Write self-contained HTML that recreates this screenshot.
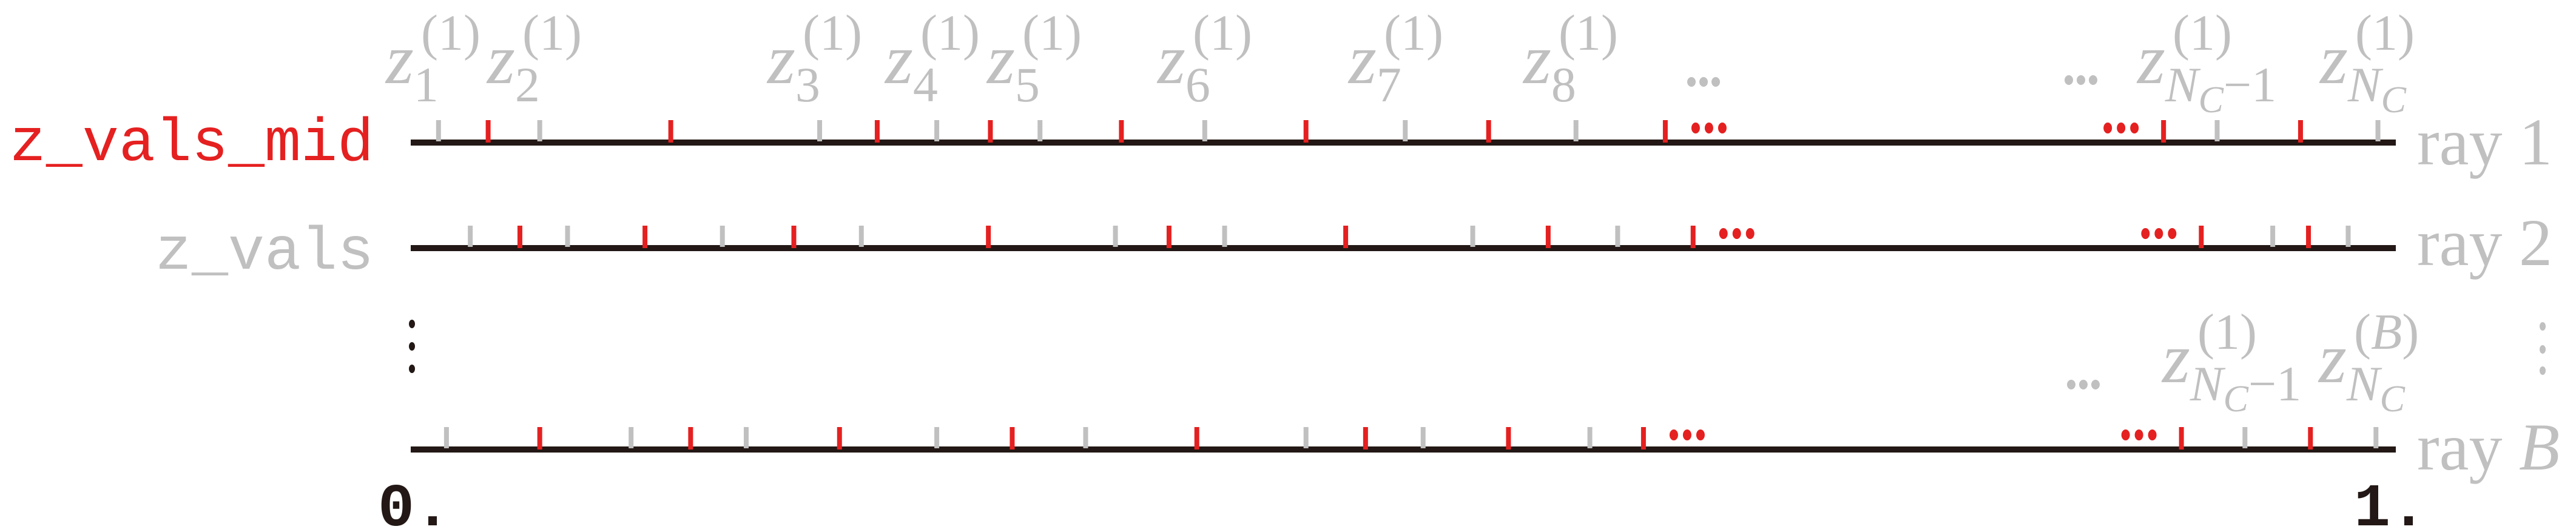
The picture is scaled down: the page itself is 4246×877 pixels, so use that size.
<!DOCTYPE html>
<html><head><meta charset="utf-8"><style>
html,body{margin:0;padding:0;background:#fff;}
svg{display:block;}
.lab{font-family:"Liberation Serif",serif;fill:#c0c0c0;}
.z{font-style:italic;font-size:118px;}
.sub{font-size:82px;}
.subi{font-size:82px;font-style:italic;}
.subc{font-size:62px;font-style:italic;}
.sup{font-size:84px;}
.mono{font-family:"Liberation Mono",monospace;font-size:100px;}
</style></head><body>
<svg id="chart" width="4246" height="877" viewBox="0 0 4246 877" xmlns="http://www.w3.org/2000/svg">
<text x="616" y="264" text-anchor="end" class="mono" fill="#e52020">z_vals_mid</text>
<text x="616" y="443" text-anchor="end" class="mono" fill="#c0c0c0">z_vals</text>
<text x="623" y="866" class="mono" fill="#231815" font-weight="bold">0.</text>
<text x="3880" y="866" class="mono" fill="#231815" font-weight="bold">1.</text>
<text x="3984" y="271" class="lab" font-size="110">ray 1</text>
<text x="3984" y="437" class="lab" font-size="110">ray 2</text>
<text x="3984" y="774" class="lab" font-size="110">ray <tspan font-style="italic">B</tspan></text>
<g fill="#231815"><ellipse cx="679" cy="534" rx="5" ry="7"/><ellipse cx="679" cy="571" rx="5" ry="7"/><ellipse cx="679" cy="608" rx="5" ry="7"/></g>
<g fill="#c0c0c0"><ellipse cx="4191" cy="538" rx="5" ry="7"/><ellipse cx="4191" cy="576" rx="5" ry="7"/><ellipse cx="4191" cy="611" rx="5" ry="7"/></g>
<g id="marks"></g>
<g id="labels"></g>
</svg>
<script>
const rays = ["ray 1", "ray 2", "ray B"];
const zValsRay1 = [0.014, 0.065, 0.206, 0.265, 0.317, 0.400, 0.501, 0.587, 0.910, 0.991];
const zMidRay1 = [0.039, 0.131, 0.235, 0.292, 0.358, 0.451, 0.543, 0.632, 0.883, 0.952];
const zValsRay2 = [0.030, 0.079, 0.157, 0.227, 0.355, 0.410, 0.535, 0.608, 0.938, 0.976];
const zMidRay2 = [0.055, 0.118, 0.193, 0.291, 0.382, 0.471, 0.573, 0.646, 0.902, 0.956];
const zValsRayB = [0.018, 0.111, 0.169, 0.265, 0.340, 0.451, 0.510, 0.594, 0.924, 0.990];
const zMidRayB = [0.065, 0.141, 0.216, 0.303, 0.396, 0.481, 0.553, 0.621, 0.892, 0.957];

const NS = "http://www.w3.org/2000/svg";
const X0 = 677, X1 = 3949;
function xScale(v){ return X0 + v * (X1 - X0); }
const rowY = [235, 409, 741];
const marks = document.getElementById('marks');
function mk(tag, attrs){ const e=document.createElementNS(NS,tag); for(const k in attrs) e.setAttribute(k,attrs[k]); return e; }
const valsSets=[zValsRay1,zValsRay2,zValsRayB], midSets=[zMidRay1,zMidRay2,zMidRayB];
rays.forEach((r,i)=>{
  const y=rowY[i];
  const line=mk('rect',{x:X0,y:y-5,width:X1-X0,height:10,fill:'#231815'});
  
  
  marks.appendChild(line);
  valsSets[i].forEach(v=>{
    const t=mk('rect',{x:xScale(v)-4,y:y-37,width:8,height:35,fill:'#c0c0c0'});
    
    
    marks.appendChild(t);
  });
  midSets[i].forEach(v=>{
    const t=mk('rect',{x:xScale(v)-4,y:y-37,width:8,height:37,fill:'#e52020'});
    
    
    marks.appendChild(t);
  });
  const m=midSets[i];
  [[m[7],1],[m[8],-1]].forEach(([v,dir])=>{
    const g=mk('g',{fill:'#e52020'});
    
    
    const base = dir>0 ? xScale(v)+50 : xScale(v)-92;
    for(let k=0;k<3;k++) g.appendChild(mk('ellipse',{cx:base+k*22,cy:y-24,rx:7,ry:9}));
    marks.appendChild(g);
  });
});
const labs=document.getElementById('labels');
function zlabel(x,y,subParts,supText,supItalic){
  const t=mk('text',{x:x,y:y,class:'lab'});
  
  
  const z=mk('tspan',{class:'z'}); z.textContent='z'; t.appendChild(z);
  subParts.forEach(([s,cls,dy])=>{
    const sp=mk('tspan',{class: cls});
    if(dy) sp.setAttribute('dy',dy);
    sp.textContent=s; t.appendChild(sp);
  });
  labs.appendChild(t);
  const s=mk('text',{x:x+58,y:y-55,class:'lab sup'});
  
  
  if(supItalic){ s.innerHTML='(<tspan font-style="italic">B</tspan>)'; } else s.textContent=supText;
  labs.appendChild(s);
}
const topY=137;
[[636,'1'],[803,'2'],[1265,'3'],[1459,'4'],[1627,'5'],[1908,'6'],[2223,'7'],[2511,'8']].forEach(([x,n])=>zlabel(x,topY,[[n,'sub','30']],'(1)'));
zlabel(3523,topY,[['N','subi','30'],['C','subc','18'],['−1','sub','-18']],'(1)');
zlabel(3824,topY,[['N','subi','30'],['C','subc','18']],'(1)');
zlabel(3564,630,[['N','subi','30'],['C','subc','18'],['−1','sub','-18']],'(1)');
zlabel(3822,630,[['N','subi','30'],['C','subc','18']],'',true);
function gdots(x,y){
  const g=mk('g',{fill:'#c0c0c0'});
  
  
  for(let k=0;k<3;k++) g.appendChild(mk('ellipse',{cx:x+k*20,cy:y,rx:7,ry:8}));
  labs.appendChild(g);
}
gdots(2788,135); gdots(3410,132); gdots(3414,634);
</script>
</body></html>
